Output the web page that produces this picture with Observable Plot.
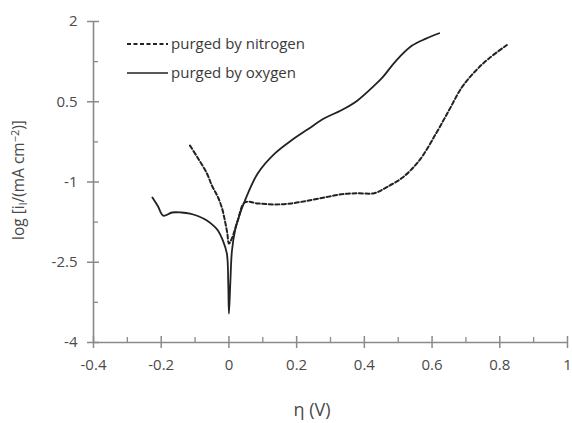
<!DOCTYPE html>
<html>
<head>
<meta charset="utf-8">
<script src="https://cdn.jsdelivr.net/npm/d3@7"></script>
<script src="https://cdn.jsdelivr.net/npm/@observablehq/plot@0.6"></script>
<style>
  html, body { margin: 0; padding: 0; background: #fff; }
  #chart svg { display: block; }
</style>
</head>
<body>
<div id="chart"></div>
<script>
// ---- data ----
const seriesNames = ["purged by nitrogen", "purged by oxygen"];
const nitrogenX = [-0.115, -0.091, -0.065, -0.05, -0.032, -0.02, -0.012, -0.005, 0, 0.009, 0.026, 0.047, 0.085, 0.135, 0.185, 0.232, 0.282, 0.332, 0.379, 0.429, 0.465, 0.512, 0.562, 0.612, 0.650, 0.688, 0.729, 0.768, 0.821];
const nitrogenY = [-0.32, -0.56, -0.84, -1.07, -1.29, -1.50, -1.72, -1.95, -2.15, -2.05, -1.72, -1.38, -1.40, -1.42, -1.40, -1.35, -1.29, -1.23, -1.21, -1.21, -1.10, -0.92, -0.60, -0.09, 0.34, 0.77, 1.08, 1.31, 1.56];
const oxygenX = [-0.226, -0.21, -0.194, -0.168, -0.14, -0.115, -0.09, -0.065, -0.045, -0.032, -0.018, -0.006, -0.002, 0, 0.004, 0.009, 0.018, 0.026, 0.047, 0.085, 0.135, 0.185, 0.232, 0.282, 0.332, 0.379, 0.429, 0.453, 0.494, 0.541, 0.582, 0.621];
const oxygenY = [-1.29, -1.45, -1.63, -1.57, -1.57, -1.59, -1.64, -1.72, -1.82, -1.91, -2.09, -2.34, -2.9, -3.46, -2.9, -2.28, -1.91, -1.72, -1.35, -0.84, -0.47, -0.22, -0.02, 0.19, 0.34, 0.52, 0.80, 0.95, 1.27, 1.55, 1.68, 1.78];
const xMajor = [-0.4, -0.2, 0, 0.2, 0.4, 0.6, 0.8, 1];
const xMinor = [-0.3, -0.1, 0.1, 0.3, 0.5, 0.7, 0.9];
const yMajor = [2, 0.5, -1, -2.5, -4];
const yMinor = [1.25, -0.25, -1.75, -3.25];

const nitrogen = nitrogenX.map((x, i) => ({x, y: nitrogenY[i]}));
const oxygen = oxygenX.map((x, i) => ({x, y: oxygenY[i]}));

const axisColor = "#8a8a8a";
const textColor = "#4a4a4a";
const font = "'Open Sans', Lato, sans-serif";
const blank = () => "";

const plot = Plot.plot({
  width: 572,
  height: 423,
  marginLeft: 93,
  marginRight: 5,
  marginTop: 21,
  marginBottom: 81,
  style: {fontFamily: font, fontSize: "15px", color: textColor, background: "#fff"},
  x: {domain: [-0.4, 1]},
  y: {domain: [-4, 2]},
  marks: [
    // axis lines
    Plot.ruleY([-4], {stroke: axisColor, strokeWidth: 1.6}),
    Plot.ruleX([-0.4], {stroke: axisColor, strokeWidth: 1.6}),
    // x ticks
    Plot.axisX({ticks: xMajor, tickSize: 6, tickPadding: 11, tickFormat: d => String(d), label: null, stroke: axisColor, fill: textColor, strokeWidth: 1.5, fontSize: 15}),
    Plot.axisX({ticks: xMajor, tickSize: 6, dy: -6, tickFormat: blank, label: null, stroke: axisColor, strokeWidth: 1.5}),
    Plot.axisX({ticks: xMinor, tickSize: 5, dy: -5, tickFormat: blank, label: null, stroke: axisColor, strokeWidth: 1.3}),
    // y ticks
    Plot.axisY({ticks: yMajor, tickSize: 6, tickPadding: 10, tickFormat: d => String(d), label: null, stroke: axisColor, fill: textColor, strokeWidth: 1.5, fontSize: 15}),
    Plot.axisY({ticks: yMajor, tickSize: 6, dx: 6, tickFormat: blank, label: null, stroke: axisColor, strokeWidth: 1.5}),
    Plot.axisY({ticks: yMinor, tickSize: 5, dx: 5, tickFormat: blank, label: null, stroke: axisColor, strokeWidth: 1.3}),
    // curves
    Plot.line(nitrogen, {x: "x", y: "y", stroke: "#222", strokeWidth: 2, strokeDasharray: "4,2.5", curve: "catmull-rom"}),
    Plot.line(oxygen, {x: "x", y: "y", stroke: "#222", strokeWidth: 1.8, curve: "catmull-rom"})
  ]
});

const svg = d3.select(plot);
// axis titles
svg.append("text")
  .attr("x", 312).attr("y", 416)
  .attr("text-anchor", "middle")
  .attr("font-family", font).attr("font-size", 18).attr("fill", textColor)
  .text("η (V)");

const yl = svg.append("text")
  .attr("transform", "translate(24,180) rotate(-90)")
  .attr("text-anchor", "middle")
  .attr("font-family", font).attr("font-size", 15.5).attr("fill", textColor);
yl.append("tspan").text("log [i");
yl.append("tspan").attr("font-size", 11).attr("dy", 3).text("l");
yl.append("tspan").attr("dy", -3).text("/(mA cm");
yl.append("tspan").attr("font-size", 11).attr("dy", -5).text("−2");
yl.append("tspan").attr("dy", 5).text(")]");

// legend
const legend = svg.append("g")
  .attr("font-family", font).attr("font-size", 15).attr("fill", "#3a3a3a")
  .attr("text-anchor", "start");
seriesNames.forEach((name, i) => {
  const y = 44 + i * 29;
  legend.append("line")
    .attr("x1", 127).attr("x2", 168).attr("y1", y).attr("y2", y)
    .attr("stroke", "#222").attr("stroke-width", i === 0 ? 2 : 1.6)
    .attr("stroke-dasharray", i === 0 ? "4,2.5" : null);
  legend.append("text").attr("x", 171).attr("y", y).attr("dy", "0.35em")
    .attr("text-anchor", "start").text(name);
});

document.getElementById("chart").appendChild(plot);
</script>
</body>
</html>
